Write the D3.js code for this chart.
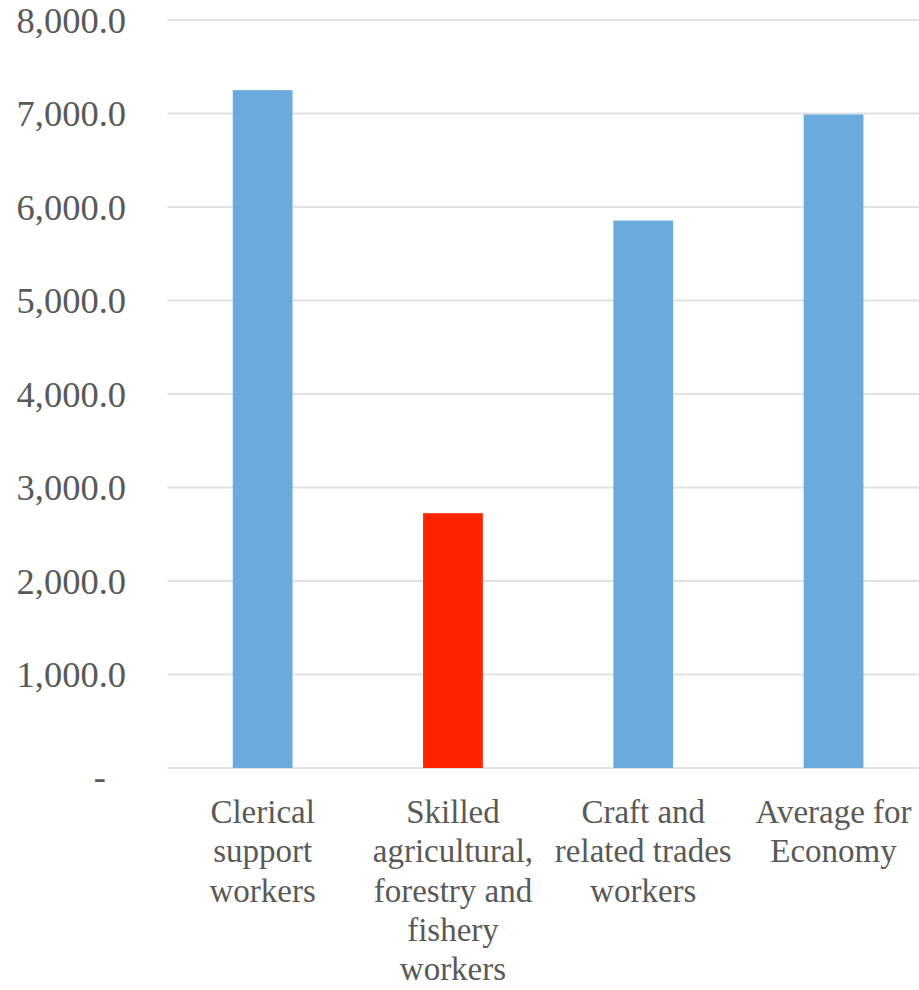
<!DOCTYPE html>
<html>
<head>
<meta charset="utf-8">
<script src="https://cdn.jsdelivr.net/npm/d3@7"></script>
<style>
  html, body { margin: 0; padding: 0; background: #fff; }
  svg { display: block; }
</style>
</head>
<body>
<svg id="chart" width="919" height="990"></svg>
<script>
// Average wages by occupation group
const categories = [
  ["Clerical", "support", "workers"],
  ["Skilled", "agricultural,", "forestry and", "fishery", "workers"],
  ["Craft and", "related trades", "workers"],
  ["Average for", "Economy"]
];
const values = [7250, 2725, 5855, 6990];
const highlight = [false, true, false, false];
const tickValues = [0, 1000, 2000, 3000, 4000, 5000, 6000, 7000, 8000];

const FONT = "Liberation Serif, Tinos, Times New Roman, Times, DejaVu Serif, serif";
const svg = d3.select("#chart");
const plotLeft = 167.5, plotRight = 928.7, plotTop = 20, plotBottom = 768;

const x = d3.scaleBand()
  .domain(d3.range(values.length))
  .range([plotLeft, plotRight])
  .paddingInner(0.686)
  .paddingOuter(0.343);

const y = d3.scaleLinear().domain([0, 8000]).range([plotBottom, plotTop]);

// horizontal gridlines
svg.append("g")
  .selectAll("line")
  .data(tickValues)
  .join("line")
  .attr("x1", plotLeft).attr("x2", plotRight)
  .attr("y1", d => y(d)).attr("y2", d => y(d))
  .attr("stroke", "#e2e2e2")
  .attr("stroke-width", 2);

// y axis labels (zero shown as a dash, accounting style)
const fmt = d3.format(",.1f");
svg.append("g")
  .selectAll("text")
  .data(tickValues)
  .join("text")
  .style("font-family", FONT)
  .attr("fill", "#595959")
  .attr("font-size", 36.5)
  .attr("x", d => d === 0 ? 106 : 126)
  .attr("y", d => y(d) + (d === 0 ? 21 : 12.5))
  .attr("text-anchor", "end")
  .text(d => d === 0 ? "-" : fmt(d));

// bars
svg.append("g")
  .selectAll("rect")
  .data(values)
  .join("rect")
  .attr("x", (d, i) => x(i))
  .attr("width", x.bandwidth())
  .attr("y", d => y(d))
  .attr("height", d => y(0) - y(d))
  .attr("fill", (d, i) => highlight[i] ? "#ff2400" : "#6aaadc");

// category labels
const lab = svg.append("g")
  .selectAll("text")
  .data(categories)
  .join("text")
  .style("font-family", FONT)
  .attr("fill", "#595959")
  .attr("font-size", 33)
  .attr("text-anchor", "middle")
  .attr("transform", (d, i) => `translate(${x(i) + x.bandwidth() / 2},823)`);
lab.selectAll("tspan")
  .data(d => d)
  .join("tspan")
  .attr("x", 0)
  .attr("y", (d, j) => j * 39.3)
  .text(d => d);
</script>
</body>
</html>
